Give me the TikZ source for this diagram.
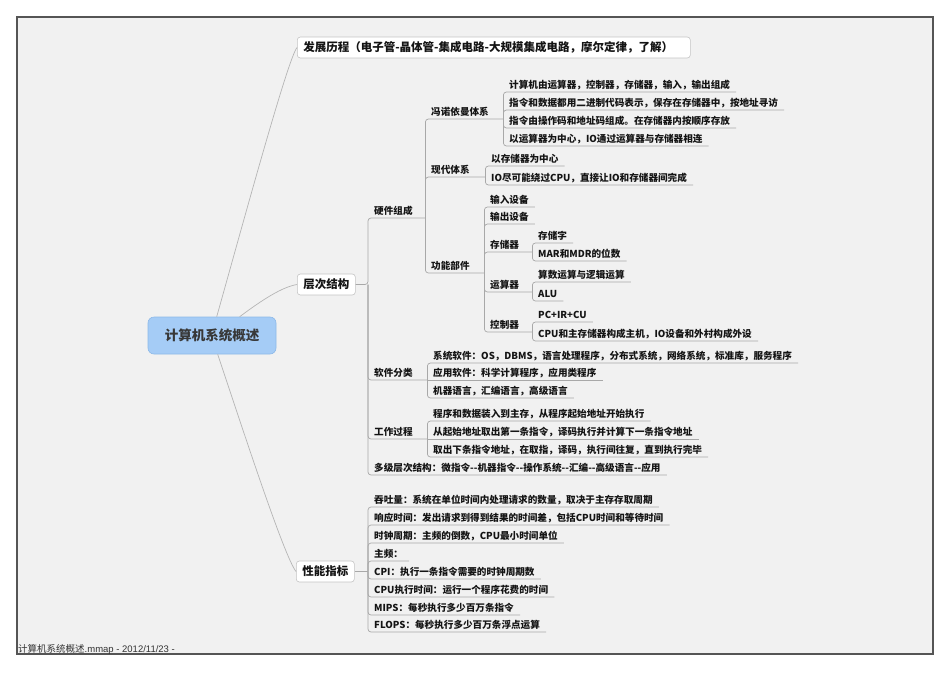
\documentclass[tikz,border=0pt]{standalone}
\usepackage{fontspec}
\setmainfont{Noto Sans CJK SC}[Ligatures={}]
\newfontfamily\footlatin{Liberation Sans}
\definecolor{linegray}{HTML}{A8A8A8}
\definecolor{boxgray}{HTML}{C4C4C4}
\definecolor{rootblue}{HTML}{A5CCF6}
\definecolor{rootedge}{HTML}{8DB9E8}
\definecolor{pagebg}{HTML}{F1F1F1}
\definecolor{framegray}{HTML}{555555}
\definecolor{inkdark}{HTML}{141414}
\tikzset{
  topic/.style={anchor=south west, inner xsep=6pt, inner ysep=2pt,
    font=\fontsize{9.6}{11}\selectfont\bfseries, text=inkdark,
    text height=8.2pt, text depth=1.6pt},
  ptopic/.style={topic, text width=#1, align=left},
  conn/.style={draw=linegray, line width=0.7pt, rounded corners=3pt},
  rootconn/.style={draw=linegray!85, line width=0.7pt},
  lonebox/.style={draw=boxgray, fill=white, rounded corners=3pt, line width=0.6pt,
    font=\fontsize{11.5}{13}\selectfont\bfseries, text=inkdark, inner xsep=6pt,
    minimum height=21pt, anchor=west},
}
\begin{document}
\begin{tikzpicture}[x=1pt, y=-1pt]
\useasboundingbox (0,0) rectangle (950,672);
\fill[white] (0,0) rectangle (950,672);
\draw[line width=1.2pt, draw=framegray, fill=pagebg] (17,17) rectangle (933,654);

% root
\node[draw=rootedge, fill=rootblue, rounded corners=6pt, line width=0.6pt,
  minimum width=128pt, minimum height=37pt, inner sep=0pt,
  font=\fontsize{13.5}{15}\selectfont\bfseries, text=black!78] (root) at (212,335.5) {计算机系统概述};

% level 1
\node[lonebox, text width=381pt, align=left] (l1a) at (297,47.5) {发展历程（电子管-晶体管-集成电路-大规模集成电路，摩尔定律，了解）};
\node[lonebox] (l1b) at (297,284.5) {层次结构};
\node[lonebox] (l1c) at (296,571.5) {性能指标};

\draw[rootconn] ([xshift=69pt]root.north west) .. controls (242,227) and (288,58) .. (l1a.west);
\draw[rootconn] ([xshift=92pt]root.north west) .. controls (262,300) and (282,287) .. (l1b.west);
\draw[rootconn] ([xshift=70pt]root.south west) .. controls (243,430) and (284,556) .. (l1c.west);

% ---- 层次结构 ----
\coordinate (s1) at (368,284.5);
\node[ptopic=45pt] (hw) at (368,218) {硬件组成};
\node[ptopic=47pt] (sw) at (368,380) {软件分类};
\node[ptopic=47pt] (wp) at (368,439) {工作过程};
\node[topic] (ml) at (368,475) {多级层次结构：微指令-{}-机器指令-{}-操作系统-{}-汇编-{}-高级语言-{}-应用};
\draw[conn] (l1b.east) -- (s1) |- (hw.south east);
\draw[conn] (s1) |- (sw.south east);
\draw[conn] (s1) |- (wp.south east);
\draw[conn] (s1) |- (ml.south east);

% 硬件组成
\node[ptopic=66pt] (vn) at (425,119) {冯诺依曼体系};
\node[ptopic=48pt] (md) at (425,177) {现代体系};
\node[ptopic=47pt] (fn) at (425,273) {功能部件};
\draw[conn] (hw.south east) |- (vn.south east);
\draw[conn] (hw.south east) |- (md.south east);
\draw[conn] (hw.south east) |- (fn.south east);

% 冯诺依曼体系
\node[topic] (vn1) at (503,92) {计算机由运算器，控制器，存储器，输入，输出组成};
\node[topic] (vn2) at (503,110) {指令和数据都用二进制代码表示，保存在存储器中，按地址寻访};
\node[topic] (vn3) at (503,128) {指令由操作码和地址码组成。在存储器内按顺序存放};
\node[topic] (vn4) at (503,146) {以运算器为中心，IO通过运算器与存储器相连};
\foreach \c in {vn1,vn2,vn3,vn4} \draw[conn] (vn.south east) |- (\c.south east);

% 现代体系
\node[topic] (md1) at (485,166) {以存储器为中心};
\node[topic] (md2) at (485,185) {IO尽可能绕过CPU，直接让IO和存储器间完成};
\foreach \c in {md1,md2} \draw[conn] (md.south east) |- (\c.south east);

% 功能部件
\node[topic] (fn1) at (484,207) {输入设备};
\node[topic] (fn2) at (484,224) {输出设备};
\node[ptopic=36pt] (fn3) at (484,252) {存储器};
\node[ptopic=36pt] (fn4) at (484,292) {运算器};
\node[ptopic=36pt] (fn5) at (484,332) {控制器};
\foreach \c in {fn1,fn2,fn3,fn4,fn5} \draw[conn] (fn.south east) |- (\c.south east);

\node[topic] (fn31) at (532,243) {存储字};
\node[topic] (fn32) at (532,261) {MAR和MDR的位数};
\foreach \c in {fn31,fn32} \draw[conn] (fn3.south east) |- (\c.south east);
\node[topic] (fn41) at (532,282) {算数运算与逻辑运算};
\node[topic] (fn42) at (532,301) {ALU};
\foreach \c in {fn41,fn42} \draw[conn] (fn4.south east) |- (\c.south east);
\node[topic] (fn51) at (532,322) {PC+IR+CU};
\node[topic] (fn52) at (532,341) {CPU和主存储器构成主机，IO设备和外村构成外设};
\foreach \c in {fn51,fn52} \draw[conn] (fn5.south east) |- (\c.south east);

% 软件分类
\node[topic] (sw1) at (427,363) {系统软件：OS，DBMS，语言处理程序，分布式系统，网络系统，标准库，服务程序};
\node[topic] (sw2) at (427,380) {应用软件：科学计算程序，应用类程序};
\node[topic] (sw3) at (427,398) {机器语言，汇编语言，高级语言};
\draw[conn] (sw.south east) |- (sw1.south east);
\draw[conn] (sw.south east) -- (sw2.south east);
\draw[conn] (sw.south east) |- (sw3.south east);

% 工作过程
\node[topic] (wp1) at (427,421) {程序和数据装入到主存，从程序起始地址开始执行};
\node[topic] (wp2) at (427,439) {从起始地址取出第一条指令，译码执行并计算下一条指令地址};
\node[topic] (wp3) at (427,457) {取出下条指令地址，在取指，译码，执行间往复，直到执行完毕};
\draw[conn] (wp.south east) |- (wp1.south east);
\draw[conn] (wp.south east) -- (wp2.south east);
\draw[conn] (wp.south east) |- (wp3.south east);

% ---- 性能指标 ----
\coordinate (s2) at (368,571.5);
\node[topic] (pf1) at (368,507) {吞吐量：系统在单位时间内处理请求的数量，取决于主存存取周期};
\node[topic] (pf2) at (368,525) {响应时间：发出请求到得到结果的时间差，包括CPU时间和等待时间};
\node[topic] (pf3) at (368,543) {时钟周期：主频的倒数，CPU最小时间单位};
\node[topic] (pf4) at (368,561) {主频：};
\node[topic] (pf5) at (368,579) {CPI：执行一条指令需要的时钟周期数};
\node[topic] (pf6) at (368,597) {CPU执行时间：运行一个程序花费的时间};
\node[topic] (pf7) at (368,615) {MIPS：每秒执行多少百万条指令};
\node[topic] (pf8) at (368,632) {FLOPS：每秒执行多少百万条浮点运算};
\draw[conn] (l1c.east) -- (s2);
\foreach \c in {pf1,pf2,pf3,pf4,pf5,pf6,pf7,pf8} \draw[conn] (s2) |- (\c.south east);

% footer
\node[anchor=base west, inner sep=0pt, font=\fontsize{9.5}{11}\selectfont, text=black!80] (foot) at (18,652) {计算机系统概述{\footlatin .mmap - 2012/11/23 -}};
\end{tikzpicture}
\end{document}
